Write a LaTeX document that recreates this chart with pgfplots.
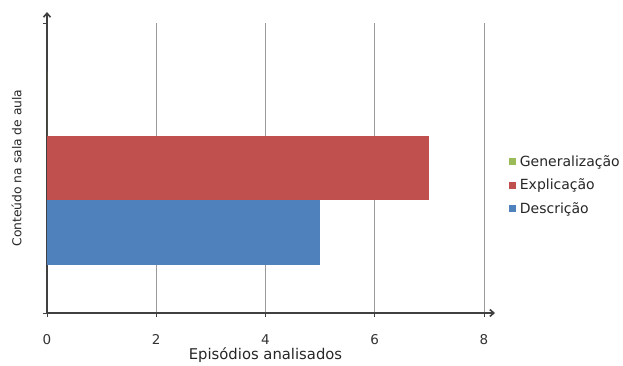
\documentclass[border=0pt]{standalone}
\usepackage{pgfplots}
\pgfplotsset{compat=1.18}
\usepackage{fontspec}
\setmainfont{DejaVu Sans}
\usetikzlibrary{arrows.meta}

\definecolor{serieblue}{HTML}{4F81BD}
\definecolor{seriered}{HTML}{C0504D}
\definecolor{seriegreen}{HTML}{9BBB59}
\definecolor{axisgray}{HTML}{404040}
\definecolor{gridgray}{HTML}{9A9A9A}

\begin{document}
\begin{tikzpicture}[font=\fontsize{13.5pt}{15pt}\selectfont]
\useasboundingbox (-47pt,-52pt) rectangle (576pt,313pt);
\begin{axis}[
  scale only axis,
  width=437pt, height=290pt,
  at={(0,0)}, anchor=south west,
  xmin=0, xmax=8, ymin=-0.5, ymax=0.5,
  axis lines=left,
  axis line style={draw=axisgray, line width=1.6pt, -{Straight Barb[length=4pt,width=7pt]}, shorten >=-11pt},
  xtick={0,2,4,6,8},
  ytick={-0.5,0.5}, yticklabels={},
  tick style={draw=axisgray, line width=0.8pt},
  tick align=outside,
  major tick length=4pt,
  xmajorgrids, grid style={draw=gridgray, line width=0.9pt},
  xticklabel style={yshift=-14pt, text=black!80},
  /pgf/number format/assume math mode=true,
  xlabel={Episódios analisados},
  xlabel style={at={(axis description cs:0.5,0)}, anchor=north, yshift=-31pt,
    text=black!85, font=\fontsize{14.8pt}{16pt}\selectfont},
  ylabel={Conteúdo na sala de aula},
  ylabel style={at={(axis description cs:0,0.5)}, anchor=south, yshift=22pt,
    text=black!85, font=\fontsize{12.3pt}{14pt}\selectfont},
  xbar, bar width=0.222,
  legend style={at={(1.327,0.441)}, anchor=east, draw=none, fill=none,
    font=\fontsize{14pt}{15pt}\selectfont, row sep=7pt, text=black!85,
    nodes={inner xsep=4pt},
    /tikz/every even column/.append style={column sep=0pt}},
  legend cell align=left,
  legend image code/.code={\fill[#1] (0pt,-3.5pt) rectangle (7pt,3.5pt);},
  reverse legend,
]
\addplot[fill=serieblue, draw=none, bar shift=-0.222] coordinates {(5,0)};
\addlegendentry{Descrição}
\addplot[fill=seriered, draw=none, bar shift=0] coordinates {(7,0)};
\addlegendentry{Explicação}
\addplot[fill=seriegreen, draw=none, bar shift=0.222] coordinates {(0,0)};
\addlegendentry{Generalização}
\end{axis}
\end{tikzpicture}
\end{document}
